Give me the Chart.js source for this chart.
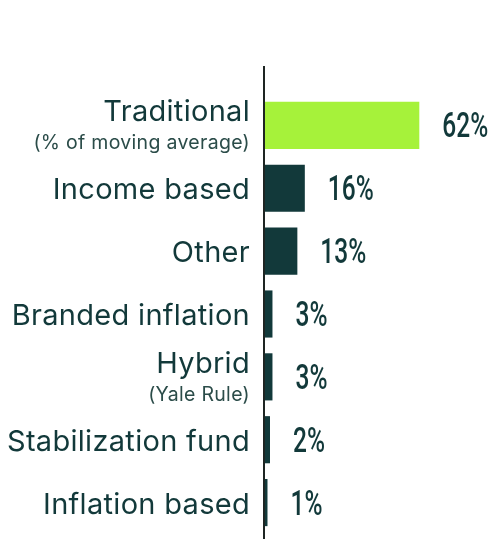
<!DOCTYPE html>
<html>
<head>
<meta charset="utf-8">
<title>Spending rules</title>
<script src="https://cdn.jsdelivr.net/npm/chart.js@4"></script>
<style>
  html, body { margin: 0; padding: 0; background: #fff; }
  .chart-box { position: relative; width: 489px; height: 539px; }
</style>
</head>
<body>
<div class="chart-box"><canvas id="rulesChart"></canvas></div>
<script>
/* ================= DATA ================= */
const categories = ["Traditional", "Income based", "Other", "Branded inflation", "Hybrid", "Stabilization fund", "Inflation based"];
const subLabels = ["(% of moving average)", "", "", "", "(Yale Rule)", "", ""];
const shares = [62, 16, 13, 3, 3, 2, 1];
const valueLabels = ["62%", "16%", "13%", "3%", "3%", "2%", "1%"];

/* ================= STYLE ================= */
const DARK = "#12393a";
const LIME = "#a6f23a";
const barColors = shares.map((_, i) => i === 0 ? LIME : DARK);

/* ================= LABEL PLUGIN ================= */
const labelPlugin = {
    id: "sideLabels",
    afterDatasetsDraw(chart) {
        const { ctx, scales, chartArea } = chart;
        const meta = chart.getDatasetMeta(0);
        const x0 = scales.x.getPixelForValue(0);

        // axis line, runs a bit above the first bar and off the bottom
        ctx.save();
        ctx.strokeStyle = "#1e2523";
        ctx.lineWidth = 2;
        ctx.beginPath();
        ctx.moveTo(x0 - 1, chartArea.top - 28);
        ctx.lineTo(x0 - 1, chart.height);
        ctx.stroke();

        categories.forEach((cat, i) => {
            const y = scales.y.getPixelForValue(i);
            ctx.fillStyle = DARK;
            ctx.textAlign = "right";
            ctx.textBaseline = "alphabetic";
            ctx.font = "400 29px Inter";
            ctx.letterSpacing = "0.3px";
            if (subLabels[i]) {
                ctx.fillText(cat, x0 - 15, y - 4);
                ctx.font = "400 19.5px Inter";
                ctx.fillStyle = "#2b4c49";
                ctx.fillText(subLabels[i], x0 - 15, y + 24);
            } else {
                ctx.fillText(cat, x0 - 15, y + 11);
            }
            ctx.letterSpacing = "0px";

            // condensed value label, squeezed horizontally
            const bar = meta.data[i];
            ctx.save();
            ctx.translate(bar.x + 23, y + 12);
            ctx.scale(0.7, 1);
            ctx.font = "500 35px Roboto";
            ctx.fillStyle = DARK;
            ctx.textAlign = "left";
            ctx.fillText(valueLabels[i], 0, 0);
            ctx.restore();
        });
        ctx.restore();
    }
};

/* ================= CHART ================= */
new Chart(document.getElementById("rulesChart"), {
    type: "bar",
    data: {
        labels: categories,
        datasets: [{
            data: shares,
            backgroundColor: barColors,
            borderWidth: 0,
            categoryPercentage: 1,
            barPercentage: 0.75
        }]
    },
    options: {
        indexAxis: "y",
        responsive: true,
        maintainAspectRatio: false,
        animation: false,
        layout: { padding: { left: 265, top: 94, bottom: 5, right: 0 } },
        plugins: {
            legend: { display: false },
            tooltip: { enabled: false }
        },
        scales: {
            x: {
                min: 0,
                max: 90,
                display: false
            },
            y: {
                display: false,
                offset: true
            }
        }
    },
    plugins: [labelPlugin]
});
</script>
</body>
</html>
